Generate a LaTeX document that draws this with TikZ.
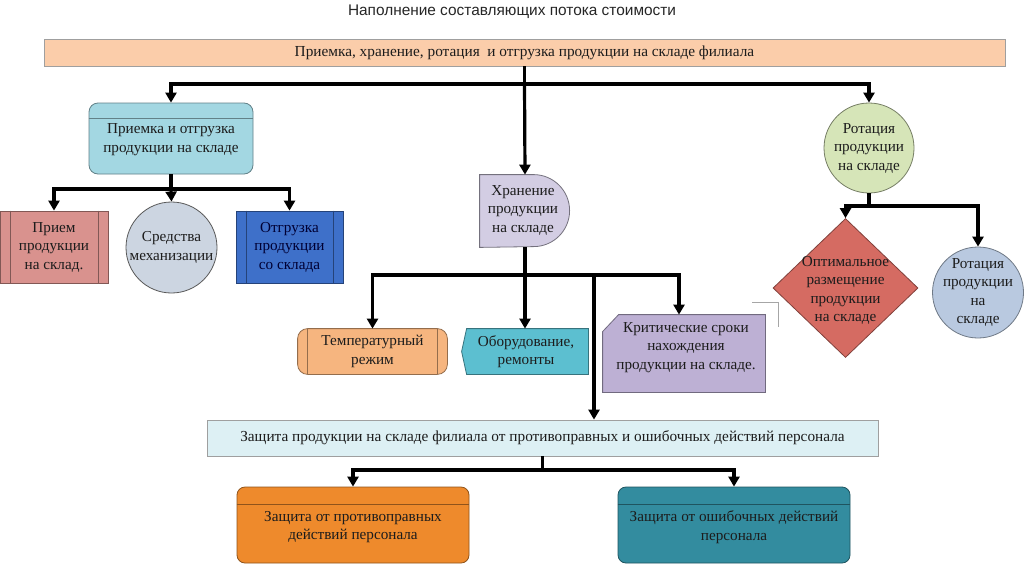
\documentclass[tikz,border=0pt]{standalone}
\usepackage{fontspec}
\setmainfont{Liberation Serif}
\newfontfamily\titlefont{Liberation Sans}
\usetikzlibrary{arrows.meta,shapes.geometric}
\definecolor{cTop}{HTML}{FBCDAA}
\definecolor{cA}{HTML}{A3D7E2}
\definecolor{cPr}{HTML}{D9928E}
\definecolor{cMech}{HTML}{CCD5E1}
\definecolor{cShip}{HTML}{3E70C9}
\definecolor{cH}{HTML}{D3CDE3}
\definecolor{cTemp}{HTML}{F6B57F}
\definecolor{cEq}{HTML}{5CBFD0}
\definecolor{cCrit}{HTML}{BDB0D4}
\definecolor{cRot}{HTML}{D6E5B8}
\definecolor{cOpt}{HTML}{D56B62}
\definecolor{cRotB}{HTML}{B9C9E0}
\definecolor{cProt}{HTML}{DDF0F4}
\definecolor{cOr}{HTML}{EE8A2C}
\definecolor{cTeal}{HTML}{338C9F}
\definecolor{txtc}{HTML}{1C1C1C}
\tikzset{
  txt/.style={font=\fontsize{15.2}{18.5}\selectfont, text=txtc, align=center, inner sep=0pt},
  bartxt/.style={font=\fontsize{15.3}{18.5}\selectfont, text=txtc, align=center, inner sep=0pt},
  shp/.style={inner sep=0pt, line width=0.8pt},
  conn/.style={line width=3.2pt, draw=black},
  arr/.style={conn, -{Triangle[length=10pt,width=11pt]}},
}
\begin{document}
\begin{tikzpicture}[x=1pt,y=-1pt]
\useasboundingbox[fill=white] (0,0) rectangle (1024,565);

% title
\node[font=\titlefont\fontsize{15.4}{17}\selectfont, text=black!85] (title) at (512,12) {Наполнение составляющих потока стоимости};

% top bar
\node[shp, draw=gray!75, fill=cTop, minimum width=961, minimum height=27, bartxt] (T) at (524.5,52.5) {Приемка, хранение, ротация\ \ и отгрузка продукции на складе филиала};

% left group
\node[shp, draw=cA!60!black, fill=cA, rounded corners=9pt, minimum width=164, minimum height=71] (A) at (171,138.5) {};
\draw[cA!60!black, line width=0.8pt] ([yshift=-16pt]A.north west) -- ([yshift=-16pt]A.north east);
\node[txt] (At) at (171,139.5) {Приемка и отгрузка\\продукции на складе};

\node[shp, draw=cPr!60!black, fill=cPr, minimum width=108, minimum height=72, txt] (P) at (54,247) {Прием\\продукции\\на склад.};
\draw[cPr!60!black, line width=0.8pt] ([xshift=11pt]P.north west) -- ([xshift=11pt]P.south west)
  ([xshift=-10pt]P.north east) -- ([xshift=-10pt]P.south east);

\node[shp, circle, draw=gray!70!black, fill=cMech, minimum size=91, txt] (M) at (171.5,247.5) {Средства\\механизации};

\node[shp, draw=cShip!60!black, fill=cShip, minimum width=107, minimum height=72, txt, text=black!80!blue] (S) at (289.5,247) {Отгрузка\\продукции\\со склада};
\draw[cShip!60!black, line width=0.8pt] ([xshift=11pt]S.north west) -- ([xshift=11pt]S.south west)
  ([xshift=-10pt]S.north east) -- ([xshift=-10pt]S.south east);

% storage
\node[shp, minimum width=90, minimum height=72] (H) at (525,211) {};
\draw[shp, draw=cH!55!black, fill=cH] (H.north west) -- ++(54,0) arc[start angle=90, end angle=-90, radius=36pt] -- (H.south west) -- cycle;
\node[txt] (Ht) at (523,210) {Хранение\\продукции\\на складе};

\node[shp, minimum width=149, minimum height=45] (Tm) at (372.5,351.5) {};
\draw[shp, draw=cTemp!60!black, fill=cTemp, rounded corners=10pt] (Tm.north west) rectangle (Tm.south east);
\draw[cTemp!60!black, line width=0.8pt] ([xshift=10pt]Tm.north west) -- ([xshift=10pt]Tm.south west)
  ([xshift=-10pt]Tm.north east) -- ([xshift=-10pt]Tm.south east);
\node[txt] (Tmt) at (Tm) {Температурный\\режим};

\node[shp, minimum width=126, minimum height=45] (E) at (525,351.5) {};
\draw[shp, draw=cEq!60!black, fill=cEq] ([xshift=5pt]E.north west) -- (E.north east) -- (E.south east) -- ([xshift=5pt]E.south west) -- (E.west) -- cycle;
\node[txt] (Et) at (526,351.5) {Оборудование,\\ремонты};

\node[shp, minimum width=162, minimum height=77] (C) at (684,353.5) {};
\draw[shp, draw=cCrit!60!black, fill=cCrit] ([yshift=-17pt]C.north west) -- ([xshift=16pt]C.north west) -- (C.north east) -- (C.south east) -- (C.south west) -- cycle;
\node[txt] (Ct) at (686,347.5) {Критические сроки\\нахождения\\продукции на складе.};

% stray gray lines
\coordinate (g1) at (752,302);
\coordinate (g2) at (778,302);
\coordinate (g3) at (778,327);
\draw[gray!70, line width=0.8pt] (g1) -- (g2) -- (g3);

% rotation group
\node[shp, circle, draw=cRot!55!black, fill=cRot, minimum size=90, txt] (R) at (869,148) {Ротация\\продукции\\на складе};
\node[shp, diamond, draw=cOpt!60!black, fill=cOpt, minimum width=145, minimum height=139] (D) at (845.5,288) {};
\node[txt] (Dt) at (845.5,290.5) {Оптимальное\\размещение\\продукции\\на складе};
\node[shp, circle, draw=cRotB!60!black, fill=cRotB, minimum size=91] (R2) at (978,292.5) {};
\node[txt] (R2t) at (978,292.5) {Ротация\\продукции\\на\\складе};

% protection
\node[shp, draw=gray!75, fill=cProt, minimum width=671, minimum height=36, bartxt] (Z) at (542.5,438) {Защита продукции на складе филиала от противоправных и ошибочных действий персонала};

\node[shp, draw=cOr!60!black, fill=cOr, rounded corners=8pt, minimum width=232, minimum height=76] (Z1) at (353,525) {};
\draw[cOr!60!black, line width=0.8pt] ([yshift=-18pt]Z1.north west) -- ([yshift=-18pt]Z1.north east);
\node[txt] (Z1t) at (353,527) {Защита от противоправных\\действий персонала};

\node[shp, draw=cTeal!60!black, fill=cTeal, rounded corners=8pt, minimum width=232, minimum height=76] (Z2) at (734,525) {};
\draw[cTeal!60!black, line width=0.8pt] ([yshift=-18pt]Z2.north west) -- ([yshift=-18pt]Z2.north east);
\node[txt] (Z2t) at (734,527) {Защита от ошибочных действий\\персонала};

% connectors
\coordinate (j1) at (524.5,84);
\draw[conn] (T.south) -- (j1);
\draw[arr] (j1) -- (H.north);
\draw[arr] (j1) -| (A.north);
\draw[arr] (j1) -| (R.north);

\coordinate (j2) at (171,189);
\draw[conn] (A.south) -- (j2);
\draw[arr] (j2) -| (P.north);
\draw[arr] (j2) -- (M.north);
\draw[arr] (j2) -| (S.north);

\coordinate (j3) at (525,275);
\draw[conn] (H.south) -- (j3);
\draw[arr] (j3) -| (Tm.north);
\draw[arr] (j3) -- (E.north);
\draw[arr] (j3) -| ([xshift=-5pt]C.north);
\coordinate (j4) at (594,275);
\draw[arr] (j4) -- (j4 |- Z.north);

\coordinate (j5) at (869,206);
\draw[conn] (R.south) -- (j5);
\draw[arr] (j5) -| (D.north);
\draw[arr] (j5) -| (R2.north);

\coordinate (j6) at (542.5,470);
\draw[conn] (Z.south) -- (j6);
\draw[arr] (j6) -| (Z1.north);
\draw[arr] (j6) -| (Z2.north);
\end{tikzpicture}
\end{document}
